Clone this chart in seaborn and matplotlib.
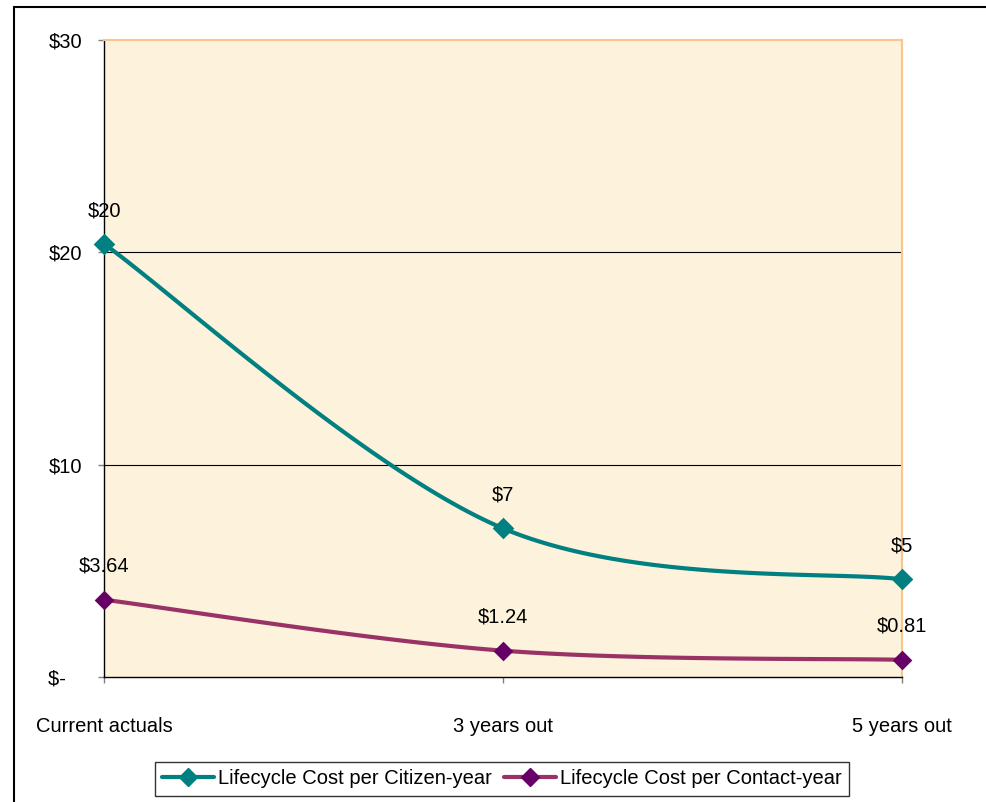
import numpy as np
import pandas as pd
import matplotlib
matplotlib.use("Agg")
import matplotlib.pyplot as plt
from matplotlib.patches import Rectangle
from matplotlib.lines import Line2D
import seaborn as sns

categories = ["Current actuals", "3 years out", "5 years out"]
citizen_values = [20.4, 7.0, 4.6]
citizen_labels = ["$20", "$7", "$5"]
contact_values = [3.64, 1.24, 0.81]
contact_labels = ["$3.64", "$1.24", "$0.81"]
y_ticks = [0, 10, 20, 30]
y_tick_labels = ["$-   ", "$10", "$20", "$30"]
series_names = ["Lifecycle Cost per Citizen-year", "Lifecycle Cost per Contact-year"]

sns.set_style("white")
plt.rcParams["font.family"] = ["Liberation Sans", "DejaVu Sans"]
plt.rcParams["text.color"] = "black"
plt.rcParams["xtick.labelcolor"] = "black"
plt.rcParams["ytick.labelcolor"] = "black"

FS = 14.5


def smooth(xs, ys, n=60):
    """Excel-like smoothed line (Catmull-Rom Bezier) through the data points."""
    P = np.column_stack([xs, ys]).astype(float)
    ext = np.vstack([P[0], P, P[-1]])
    out = []
    t = np.linspace(0, 1, n)
    for i in range(len(P) - 1):
        p0, p3 = ext[i + 1], ext[i + 2]
        c1 = p0 + (ext[i + 2] - ext[i]) / 6.0
        c2 = p3 - (ext[i + 3] - ext[i + 1]) / 6.0
        seg = ((1 - t) ** 3)[:, None] * p0 + (3 * (1 - t) ** 2 * t)[:, None] * c1 \
            + (3 * (1 - t) * t ** 2)[:, None] * c2 + (t ** 3)[:, None] * p3
        out.append(seg if i == 0 else seg[1:])
    return np.vstack(out)


fig = plt.figure(figsize=(9.87, 8.02), dpi=100)
ax = fig.add_axes([104 / 987, 1 - 677 / 802, (902 - 104) / 987, (677 - 40) / 802])
ax.set_facecolor("#FDF2DC")

x_idx = np.arange(len(categories))
series = [
    (citizen_values, citizen_labels, "#008080", "#008080", 11),
    (contact_values, contact_labels, "#993366", "#660066", 10),
]

for gi in y_ticks[1:3]:
    ax.axhline(gi, color="black", lw=0.8, zorder=1)

handles = []
for (vals, labs, lc, mc, ms), name in zip(series, series_names):
    curve = smooth(x_idx, vals)
    df_line = pd.DataFrame({"x": curve[:, 0], "y": curve[:, 1]})
    sns.lineplot(data=df_line, x="x", y="y", sort=False, color=lc, lw=3.0, ax=ax, zorder=3)
    df_pts = pd.DataFrame({"x": x_idx, "y": vals})
    sns.scatterplot(data=df_pts, x="x", y="y", marker="D", s=ms ** 2, color=mc,
                    edgecolor=mc, linewidth=0, ax=ax, zorder=4, clip_on=False)
    for xi, v, lab in zip(x_idx, vals, labs):
        ax.annotate(lab, (xi, v), xytext=(0, 24), textcoords="offset points",
                    ha="center", va="center", fontsize=FS, color="black",
                    annotation_clip=False, zorder=5)
    handles.append(Line2D([], [], color=lc, lw=3.0, marker="D", markersize=9,
                          markerfacecolor=mc, markeredgecolor=mc))

ax.set_xlim(0, len(categories) - 1)
ax.set_ylim(0, 30)
ax.set_xticks(x_idx)
ax.set_xticklabels(categories, fontsize=FS)
ax.set_yticks(y_ticks)
ax.set_yticklabels(y_tick_labels, fontsize=FS)
ax.set_xlabel("")
ax.set_ylabel("")
ax.tick_params(axis="x", direction="out", length=4, width=1, color="#808080", pad=25, bottom=True)
ax.tick_params(axis="y", direction="out", length=4, width=1, color="#808080", pad=11.5, left=True)

for side in ["left", "bottom"]:
    ax.spines[side].set_color("black")
    ax.spines[side].set_linewidth(1.0)
for side in ["top", "right"]:
    ax.spines[side].set_visible(True)
    ax.spines[side].set_color("#F9C48E")
    ax.spines[side].set_linewidth(1.5)

leg = fig.legend(handles, series_names, loc="center", bbox_to_anchor=(502 / 987, 1 - 779 / 802),
                 ncol=2, frameon=True, fancybox=False, edgecolor="black", fontsize=FS,
                 handlelength=2.6, handletextpad=0.2, columnspacing=0.6, borderpad=0.35)
leg.get_frame().set_linewidth(1.0)

fig.patches.append(Rectangle((14 / 987, -0.1), 1.2, 1.1 - 7 / 802, transform=fig.transFigure,
                             fill=False, edgecolor="black", lw=1.5, zorder=0))

fig.savefig("out.png", dpi=100, facecolor="white")
